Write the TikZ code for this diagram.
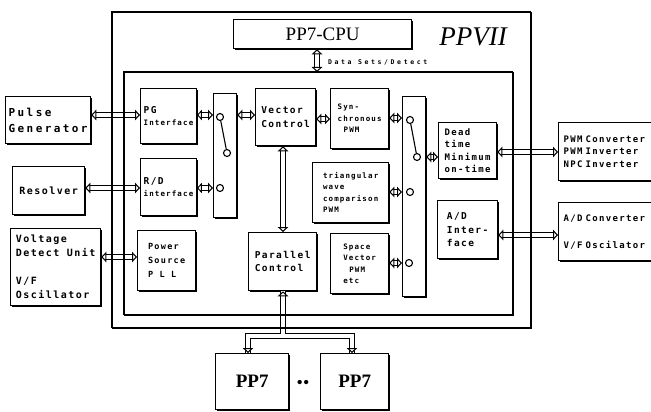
\documentclass[tikz,border=0pt]{standalone}
\usepackage{fontspec}
\setmainfont{Liberation Serif}
\newfontfamily\monoA{DejaVu Sans Mono}[LetterSpace=15]
\newfontfamily\monoB{DejaVu Sans Mono}[LetterSpace=40]
\newfontfamily\monoC{DejaVu Sans Mono}[LetterSpace=22]
\usetikzlibrary{arrows.meta,shadows}
\newcommand\fL{\monoC\bfseries\fontsize{11}{15.5}\selectfont}
\newcommand\fR{\monoA\bfseries\fontsize{10}{14}\selectfont}
\newcommand\fV{\monoA\bfseries\fontsize{10}{14}\selectfont}
\newcommand\fM{\monoA\bfseries\fontsize{9.5}{13.5}\selectfont}
\newcommand\fD{\monoA\bfseries\fontsize{9}{12.5}\selectfont}
\newcommand\fP{\monoA\bfseries\fontsize{8.5}{14}\selectfont}
\newcommand\fS{\monoA\bfseries\fontsize{7.5}{11.5}\selectfont}
\newcommand\fT{\monoB\bfseries\fontsize{6.5}{8}\selectfont}
\begin{document}
\begin{tikzpicture}[x=1pt,y=-1pt,
  bline/.style={line width=1.3pt},
  box/.style={draw, line width=1.3pt, fill=white, inner xsep=3pt, inner ysep=2pt,
    anchor=north west, align=left,
    drop shadow={shadow xshift=1.3pt, shadow yshift=-1.3pt, opacity=1, fill=black}},
  frame/.style={anchor=north west, inner sep=0pt},
  tipx/.tip={Triangle[open, length=5pt, width=10.5pt, line width=1pt, fill=white]},
  dar/.style={double=white, double distance=3.2pt, line width=1.1pt, {tipx}-{tipx}},
  sw/.style={circle, draw, line width=1.1pt, fill=white, minimum size=7pt, inner sep=0pt},
  swline/.style={line width=1.1pt}
]
\useasboundingbox (0,0) rectangle (651,412);
\clip (0,0) rectangle (651,412);

% frames (drawn later)
\node[frame, minimum width=418pt, minimum height=315pt] (outer) at (112,12) {};
\node[frame, minimum width=388pt, minimum height=242pt] (inner) at (124,72) {};

% top
\node[box, minimum width=178pt, minimum height=29pt, align=center, font=\fontsize{19}{21}\selectfont] (cpu) at (233,19) {PP7-CPU};
\node[font=\fontsize{27}{30}\selectfont\itshape] (ppvii) at (473,37) {PPVII};
\node[anchor=west, font=\fT, inner sep=0pt] (dslbl) at (328,62) {Data Sets/Detect};

% left external
\node[box, minimum width=82pt, minimum height=47pt, font=\fL] (pulse) at (5,96) {Pulse\\Generator};
\node[box, minimum width=72pt, minimum height=48pt, font=\fR] (resolver) at (12,166) {Resolver};
\node[box, minimum width=90pt, minimum height=77pt, font=\fV] (voltage) at (10,228) {Voltage\\Detect Unit\\[14pt]V/F\\Oscillator};

% inner blocks
\node[box, minimum width=55pt, minimum height=55pt, font=\fS] (pgi) at (140,88) {{\fM PG}\\Interface};
\node[box, minimum width=55pt, minimum height=57pt, font=\fS] (rdi) at (140,158) {{\fM R/D}\\interface};
\node[box, minimum width=58pt, minimum height=60pt, font=\fP] (pll) at (137,230) {Power\\Source\\P L L};
\node[box, minimum width=23pt, minimum height=124pt] (bar1) at (213,93) {};
\node[box, minimum width=60pt, minimum height=57pt, font=\fM] (vc) at (255,88) {Vector\\Control};
\node[box, minimum width=58pt, minimum height=60pt, font=\fS] (sync) at (330,88) {Syn-\\chronous\\\hspace*{6pt}PWM};
\node[box, minimum width=76pt, minimum height=60pt, font=\fS] (tri) at (312,162) {triangular\\wave\\comparison\\PWM};
\node[box, minimum width=58pt, minimum height=60pt, font=\fS] (space) at (330,233) {Space\\Vector\\\hspace*{6pt}PWM\\etc};
\node[box, minimum width=68pt, minimum height=58pt, font=\fM] (pc) at (248,232) {Parallel\\Control};
\node[box, minimum width=23pt, minimum height=200pt] (bar2) at (402,96) {};
\node[box, minimum width=58pt, minimum height=56pt, font=\fD] (dead) at (438,122) {Dead\\time\\Minimum\\on-time};
\node[box, minimum width=60pt, minimum height=58pt, font=\fM] (adi) at (437,200) {A/D\\Inter-\\face};

% right external
\node[box, minimum width=110pt, minimum height=58pt, text width=100pt, font=\fD] (pwm) at (558,122) {PWM Converter\\PWM Inverter\\NPC Inverter};
\node[box, minimum width=110pt, minimum height=58pt, text width=100pt, font=\fD] (adbox) at (558,202) {A/D Converter\\[14.5pt]V/F Oscilator};

% bottom
\node[box, minimum width=73pt, minimum height=56pt, align=center, font=\bfseries\fontsize{19}{21}\selectfont] (pp7a) at (215,353) {PP7};
\node[box, minimum width=68pt, minimum height=56pt, align=center, font=\bfseries\fontsize{19}{21}\selectfont] (pp7b) at (320,353) {PP7};
\node[font=\fontsize{18}{18}\selectfont, inner sep=0pt] (dots) at (303,384) {\textbullet\textbullet};

% switches
\node[sw] (s1a) at (220,117) {};
\node[sw] (s1b) at (227,153) {};
\node[sw] (s1c) at (220,188) {};
\draw[swline] (s1a) -- (s1b);
\node[sw] (s2a) at (410,120) {};
\node[sw] (s2b) at (417,157) {};
\node[sw] (s2c) at (410,192) {};
\node[sw] (s2d) at (409,263) {};
\draw[swline] (s2a) -- (s2b);

% connectors
\draw[dar] (pulse.east |- 0,115) -- (pgi.west |- 0,115);
\draw[dar] (resolver.east |- 0,188) -- (rdi.west |- 0,188);
\draw[dar] (voltage.east |- 0,257) -- (pll.west |- 0,257);
\draw[dar] (pgi.east |- 0,115) -- (bar1.west |- 0,115);
\draw[dar] (rdi.east |- 0,188) -- (bar1.west |- 0,188);
\draw[dar] (bar1.east |- 0,115) -- (vc.west |- 0,115);
\draw[dar] (vc.east |- 0,119) -- (sync.west |- 0,119);
\draw[dar] (vc.south -| 283,0) -- (pc.north -| 283,0);
\draw[dar] (sync.east |- 0,118) -- (bar2.west |- 0,118);
\draw[dar] (tri.east |- 0,192) -- (bar2.west |- 0,192);
\draw[dar] (space.east |- 0,263) -- (bar2.west |- 0,263);
\draw[dar] (bar2.east |- 0,157) -- (dead.west |- 0,157);
\draw[dar] (dead.east |- 0,152) -- (pwm.west |- 0,152);
\draw[dar] (adi.east |- 0,235) -- (adbox.west |- 0,235);
\draw[dar] (cpu.south -| 317,0) -- (inner.north -| 317,0);

% bus tree to PP7 boxes
\coordinate (j) at (283,336);
\draw[line width=5.4pt] (pc.south -| 283,0) -- (j) (pp7a.north -| 248,0) |- (j) -| (pp7b.north -| 352,0);
\draw[line width=3.2pt, white] (pc.south -| 283,0) -- (j) (pp7a.north -| 248,0) |- (j) -| (pp7b.north -| 352,0);
\draw[dar, {tipx}-] (pc.south -| 283,0) -- ++(0,12);
\draw[dar, {tipx}-] (pp7a.north -| 248,0) -- ++(0,-10);
\draw[dar, {tipx}-] (pp7b.north -| 352,0) -- ++(0,-10);

% frames on top
\draw[bline] (outer.north west) rectangle (outer.south east);
\draw[bline] ([xshift=1.3pt]outer.north east) -- ([xshift=1.3pt,yshift=-1.3pt]outer.south east) -- ([yshift=-1.3pt]outer.south west);
\draw[bline] (inner.north west) rectangle (inner.south east);
\draw[bline] ([xshift=1.3pt]inner.north east) -- ([xshift=1.3pt,yshift=-1.3pt]inner.south east) -- ([yshift=-1.3pt]inner.south west);
\end{tikzpicture}
\end{document}
